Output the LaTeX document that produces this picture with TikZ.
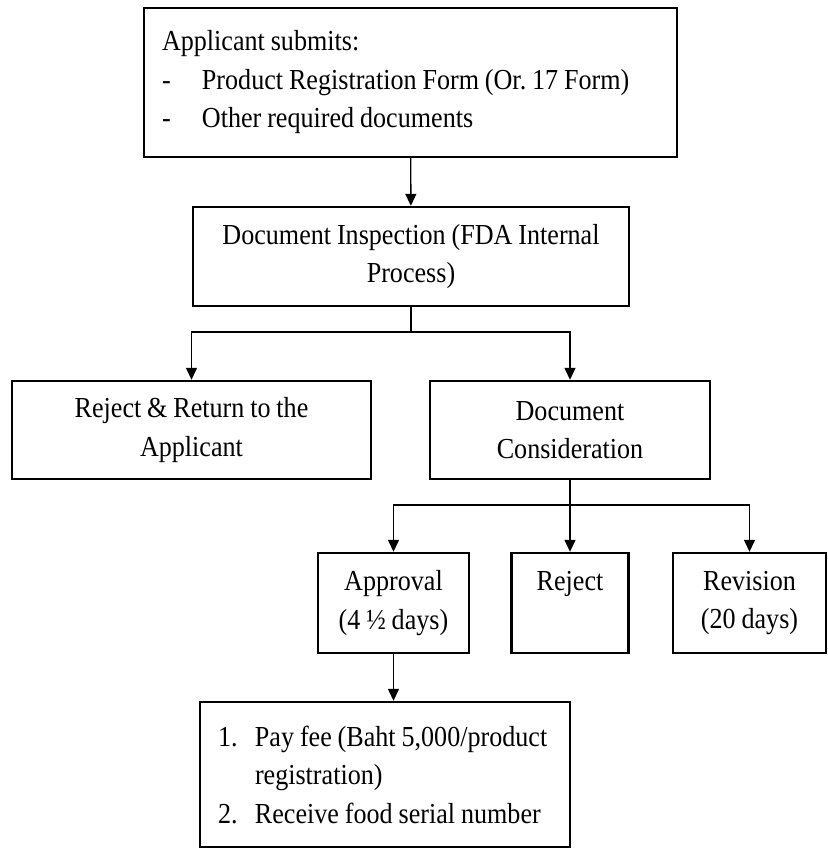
\documentclass[tikz,border=0pt]{standalone}
\usepackage{fontspec}
\setmainfont[FakeStretch=0.9, WordSpace=0.9]{Liberation Serif}
\frenchspacing
\usetikzlibrary{arrows.meta, positioning, calc}
\tikzset{
  n/.style={draw=black, line width=1.2pt, align=center, font=\fontsize{14.5}{19.25}\selectfont, inner sep=0pt, fill=white},
  nl/.style={n, align=flush left},
  a/.style={-{Triangle[length=6pt, width=5.5pt]}, draw=black, line width=0.7pt},
}
\newcommand{\dashitem}{\makebox[20pt][l]{-}}
\newcommand{\numitem}[1]{\makebox[18.5pt][l]{#1}}

\begin{document}
\begin{tikzpicture}[x=0.5pt, y=0.5pt]
\useasboundingbox[fill=white] (0,0) rectangle (828,-850);

% ---- submission and inspection ----
\node[nl, minimum width=266.5pt, minimum height=74.5pt, text width=248.5pt] (submit) at (410.5,-82.5)
  {Applicant submits:\\
   \dashitem Product Registration Form (Or. 17 Form)\\
   \dashitem Other required documents};
\node[n, minimum width=218pt, minimum height=49.5pt] (inspect) at (411,-256.5)
  {Document Inspection (FDA Internal\\Process)};

% ---- first split ----
\node[n, minimum width=179.5pt, minimum height=49pt] (retrn)    at (191.5,-430) {Reject \& Return to the\\Applicant};
\node[n, minimum width=140pt,   minimum height=49pt] (consider) at (570,-430)   {Document\\Consideration};

% ---- second split ----
\node[n, minimum width=75.5pt, minimum height=50pt] (approve) at (393.5,-603) {Approval\\(4 ½ days)};
\node[n, minimum width=58.5pt, minimum height=50pt] (reject)  at (570,-603)   {Reject\\\phantom{(20 days)}};
\node[n, minimum width=76.5pt, minimum height=50pt] (revise)  at (749.5,-603) {Revision\\(20 days)};

% ---- after approval ----
\node[nl, minimum width=185pt, minimum height=72.5pt, text width=167pt] (pay) at (385,-774.5)
  {\mbox{\numitem{1.}Pay fee (Baht 5,000/product}\\
   \mbox{\numitem{}registration)}\\
   \mbox{\numitem{2.}Receive food serial number}};

% ---- edges ----
\coordinate (split1) at (411,-332);
\coordinate (split2) at (570,-505);

\draw[a] (submit) -- (inspect);
\draw[a] (inspect.south) -- (split1) -| (retrn.north);
\draw[a] (split1) -| (consider.north);

\draw[a] (consider.south) -- (split2) -| (approve.north);
\draw[a] (split2) -- (reject.north);
\draw[a] (split2) -| (revise.north);

\draw[a] (approve.south) -- (approve.south |- pay.north);
\end{tikzpicture}
\end{document}
